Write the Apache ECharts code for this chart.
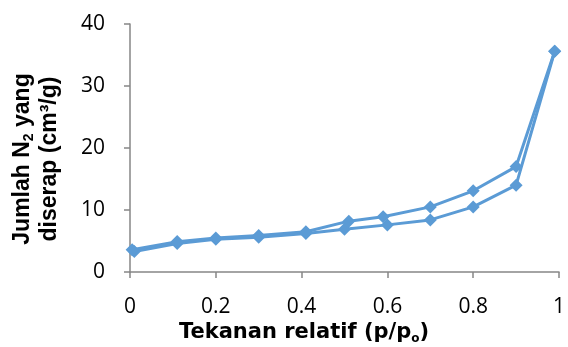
<!DOCTYPE html>
<html>
<head>
<meta charset="utf-8">
<script src="https://cdn.jsdelivr.net/npm/echarts@6/dist/echarts.min.js"></script>
<style>html,body{margin:0;padding:0;background:#fff}#c{width:568px;height:347px}</style>
</head>
<body>
<div id="c"></div>
<script>
const adsorpsiX = [0.01, 0.11, 0.2, 0.3, 0.41, 0.5, 0.6, 0.7, 0.8, 0.9, 0.99];
const adsorpsiY = [3.3, 4.6, 5.3, 5.6, 6.2, 6.9, 7.6, 8.4, 10.5, 14.0, 35.6];
const desorpsiX = [0.99, 0.9, 0.8, 0.7, 0.59, 0.51, 0.41, 0.3, 0.2, 0.11, 0.005];
const desorpsiY = [35.6, 17.0, 13.1, 10.5, 8.9, 8.2, 6.5, 5.9, 5.5, 4.9, 3.6];
const xTicks = [0, 0.2, 0.4, 0.6, 0.8, 1];
const yTicks = [0, 10, 20, 30, 40];

const color = '#5B9BD5';
const axisColor = '#868686';
const tickFont = 'Open Sans';
const nameFont = 'Liberation Sans';

const chart = echarts.init(document.getElementById('c'));
const pts = (xs, ys) => xs.map((x, i) => [x, ys[i]]);
const seriesBase = {
  type: 'line',
  symbol: 'diamond',
  symbolSize: 13,
  lineStyle: { color: color, width: 3 },
  itemStyle: { color: color },
  animation: false
};
chart.setOption({
  grid: { left: 130, right: 9, top: 24, bottom: 75 },
  xAxis: {
    type: 'value', min: 0, max: 1, interval: 0.2,
    axisLine: { lineStyle: { color: axisColor, width: 1.5 } },
    axisTick: { show: true, length: 6, lineStyle: { color: axisColor, width: 1.5 } },
    splitLine: { show: false },
    axisLabel: { color: '#000', fontFamily: tickFont, fontSize: 21, margin: 25,
      formatter: v => xTicks.includes(+v.toFixed(1)) ? String(+v.toFixed(1)) : '' }
  },
  yAxis: {
    type: 'value', min: 0, max: 40, interval: 10,
    axisLine: { show: true, lineStyle: { color: axisColor, width: 1.5 } },
    axisTick: { show: true, length: 6, lineStyle: { color: axisColor, width: 1.5 } },
    splitLine: { show: false },
    axisLabel: { color: '#000', fontFamily: tickFont, fontSize: 21, margin: 25,
      formatter: v => yTicks.includes(v) ? String(v) : '' }
  },
  graphic: [{
    type: 'text',
    x: 36, y: 159,
    rotation: Math.PI / 2,
    style: {
      text: '{b|Jumlah N}{s|2}{b| yang}\n{b|diserap (cm³/g)}',
      align: 'center', verticalAlign: 'middle',
      rich: {
        b: { fontFamily: nameFont, fontSize: 23, fontWeight: 'bold', fill: '#000', lineHeight: 27 },
        s: { fontFamily: nameFont, fontSize: 14, fontWeight: 'bold', fill: '#000', verticalAlign: 'bottom', lineHeight: 27, padding: [10, 0, 0, 0] }
      }
    }
  }, {
    type: 'text',
    x: 304, y: 333,
    style: {
      text: '{b|Tekanan relatif (p/p}{s|o}{b|)}',
      align: 'center', verticalAlign: 'middle',
      rich: {
        b: { fontFamily: 'DejaVu Sans', fontSize: 21, fontWeight: 'bold', fill: '#000', lineHeight: 24 },
        s: { fontFamily: 'DejaVu Sans', fontSize: 12, fontWeight: 'bold', fill: '#000', verticalAlign: 'bottom', lineHeight: 24, padding: [8, 0, 0, 0] }
      }
    }
  }],
  series: [
    Object.assign({ name: 'Adsorpsi', data: pts(adsorpsiX, adsorpsiY) }, seriesBase),
    Object.assign({ name: 'Desorpsi', data: pts(desorpsiX, desorpsiY) }, seriesBase)
  ]
});
</script>
</body>
</html>
